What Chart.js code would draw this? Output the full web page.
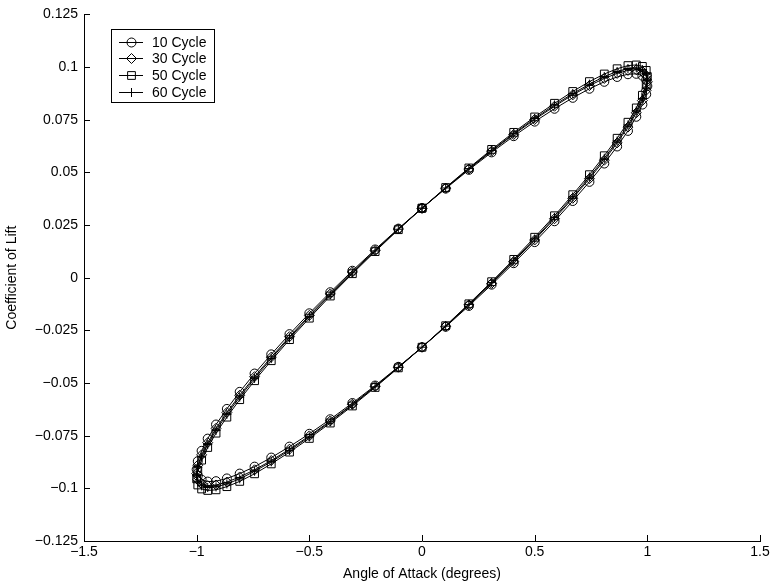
<!DOCTYPE html>
<html>
<head>
<meta charset="utf-8">
<script src="https://cdn.jsdelivr.net/npm/chart.js@4/dist/chart.umd.min.js"></script>
<style>
  html, body { margin: 0; padding: 0; background: #fff; }
  #plot { display: block; }
</style>
</head>
<body>
<canvas id="plot" width="773" height="585"></canvas>
<script>
// angle of attack (deg) - same prescribed motion for every run
var alpha = [0, 0.105, 0.208, 0.309, 0.407, 0.5, 0.588, 0.669, 0.743, 0.809, 0.866, 0.914, 0.951, 0.978, 0.995, 1,
	0.995, 0.978, 0.951, 0.914, 0.866, 0.809, 0.743, 0.669, 0.588, 0.5, 0.407, 0.309, 0.208, 0.105, 0,
	-0.105, -0.208, -0.309, -0.407, -0.5, -0.588, -0.669, -0.743, -0.809, -0.866, -0.914, -0.951, -0.978, -0.995, -1,
	-0.995, -0.978, -0.951, -0.914, -0.866, -0.809, -0.743, -0.669, -0.588, -0.5, -0.407, -0.309, -0.208, -0.105, 0];

// coefficient of lift for each run
var cl10 = [0.0330, 0.0423, 0.0512, 0.0595, 0.0672, 0.0741, 0.0802, 0.0854, 0.0897, 0.0930, 0.0953, 0.0966, 0.0968, 0.0959, 0.0940, 0.0910,
	0.0871, 0.0822, 0.0764, 0.0697, 0.0623, 0.0542, 0.0455, 0.0364, 0.0268, 0.0169, 0.0069, -0.0033, -0.0134, -0.0233, -0.0330,
	-0.0423, -0.0512, -0.0595, -0.0672, -0.0741, -0.0802, -0.0854, -0.0897, -0.0930, -0.0953, -0.0966, -0.0968, -0.0959, -0.0940, -0.0910,
	-0.0871, -0.0822, -0.0764, -0.0697, -0.0623, -0.0542, -0.0455, -0.0364, -0.0268, -0.0169, -0.0069, 0.0033, 0.0134, 0.0233, 0.0330];
var cl30 = [0.0330, 0.0425, 0.0516, 0.0601, 0.0680, 0.0751, 0.0814, 0.0868, 0.0912, 0.0946, 0.0970, 0.0984, 0.0987, 0.0978, 0.0959, 0.0930,
	0.0890, 0.0841, 0.0783, 0.0715, 0.0640, 0.0558, 0.0470, 0.0377, 0.0280, 0.0179, 0.0077, -0.0027, -0.0129, -0.0231, -0.0330,
	-0.0425, -0.0516, -0.0601, -0.0680, -0.0751, -0.0814, -0.0868, -0.0912, -0.0946, -0.0970, -0.0984, -0.0987, -0.0978, -0.0959, -0.0930,
	-0.0890, -0.0841, -0.0783, -0.0715, -0.0640, -0.0558, -0.0470, -0.0377, -0.0280, -0.0179, -0.0077, 0.0027, 0.0129, 0.0231, 0.0330];
var cl50 = [0.0330, 0.0428, 0.0521, 0.0609, 0.0690, 0.0763, 0.0828, 0.0884, 0.0931, 0.0967, 0.0992, 0.1007, 0.1010, 0.1003, 0.0984, 0.0955,
	0.0915, 0.0866, 0.0806, 0.0738, 0.0662, 0.0579, 0.0489, 0.0394, 0.0294, 0.0192, 0.0087, -0.0019, -0.0124, -0.0228, -0.0330,
	-0.0428, -0.0521, -0.0609, -0.0690, -0.0763, -0.0828, -0.0884, -0.0931, -0.0967, -0.0992, -0.1007, -0.1010, -0.1003, -0.0984, -0.0955,
	-0.0915, -0.0866, -0.0806, -0.0738, -0.0662, -0.0579, -0.0489, -0.0394, -0.0294, -0.0192, -0.0087, 0.0019, 0.0124, 0.0228, 0.0330];
var cl60 = [0.0330, 0.0426, 0.0518, 0.0604, 0.0684, 0.0756, 0.0820, 0.0874, 0.0919, 0.0955, 0.0979, 0.0993, 0.0996, 0.0988, 0.0969, 0.0940,
	0.0900, 0.0851, 0.0792, 0.0725, 0.0649, 0.0567, 0.0478, 0.0384, 0.0286, 0.0184, 0.0081, -0.0023, -0.0127, -0.0230, -0.0330,
	-0.0426, -0.0518, -0.0604, -0.0684, -0.0756, -0.0820, -0.0874, -0.0919, -0.0955, -0.0979, -0.0993, -0.0996, -0.0988, -0.0969, -0.0940,
	-0.0900, -0.0851, -0.0792, -0.0725, -0.0649, -0.0567, -0.0478, -0.0384, -0.0286, -0.0184, -0.0081, 0.0023, 0.0127, 0.0230, 0.0330];

var seriesNames = ['10 Cycle', '30 Cycle', '50 Cycle', '60 Cycle'];
var seriesValues = [cl10, cl30, cl50, cl60];
var markers = ['circle', 'rectRot', 'rect', 'cross'];
var markerSizes = [4.5, 5, 5.5, 4.5];

var font = 'Helvetica, "Liberation Sans", Arial, sans-serif';

function fmt(v) {
	var s = String(Number(v.toFixed(3)));
	return s.replace('-', '\u2212');
}

function pairs(ys) {
	var out = [];
	for (var i = 0; i < alpha.length; i++) out.push({x: alpha[i], y: ys[i]});
	return out;
}

var datasets = seriesValues.map(function(vals, i) {
	return {
		label: seriesNames[i],
		data: pairs(vals),
		showLine: true,
		tension: 0,
		borderColor: '#000',
		borderWidth: 1,
		pointStyle: markers[i],
		pointRadius: markerSizes[i],
		pointBorderColor: '#000',
		pointBorderWidth: 1,
		pointBackgroundColor: 'rgba(0,0,0,0)'
	};
});

// matlab style ticks pointing into the axes
var innerTicks = {
	id: 'innerTicks',
	afterDraw: function(chart) {
		var ctx = chart.ctx, xs = chart.scales.x, ys = chart.scales.y, len = 6;
		ctx.save();
		ctx.strokeStyle = '#000';
		ctx.lineWidth = 1;
		ctx.beginPath();
		xs.ticks.forEach(function(t) {
			var px = Math.round(xs.getPixelForValue(t.value)) + 0.5;
			ctx.moveTo(px, ys.bottom);
			ctx.lineTo(px, ys.bottom - len);
		});
		ys.ticks.forEach(function(t) {
			var py = Math.round(ys.getPixelForValue(t.value)) + 0.5;
			ctx.moveTo(xs.left, py);
			ctx.lineTo(xs.left + len, py);
		});
		ctx.stroke();
		ctx.restore();
	}
};

// legend box in the upper left of the axes
var boxLegend = {
	id: 'boxLegend',
	afterDraw: function(chart) {
		var ctx = chart.ctx,
			left = 111, top = 29, w = 103, h = 73, row = 16.7;
		ctx.save();
		ctx.fillStyle = '#fff';
		ctx.fillRect(left, top, w, h);
		ctx.strokeStyle = '#000';
		ctx.lineWidth = 1;
		ctx.strokeRect(left + 0.5, top + 0.5, w, h);
		ctx.font = '14px ' + font;
		ctx.textBaseline = 'middle';
		ctx.textAlign = 'left';
		chart.data.datasets.forEach(function(ds, i) {
			var y = Math.round(top + 12.7 + i * row) + 0.5;
			ctx.strokeStyle = '#000';
			ctx.beginPath();
			ctx.moveTo(119, y);
			ctx.lineTo(143, y);
			ctx.stroke();
			ctx.fillStyle = 'rgba(0,0,0,0)';
			Chart.helpers.drawPoint(ctx, {pointStyle: ds.pointStyle, radius: ds.pointRadius, borderWidth: 1}, 131.5, y);
			ctx.fillStyle = '#000';
			ctx.fillText(ds.label, 152, y + 1);
		});
		ctx.restore();
	}
};

new Chart(document.getElementById('plot'), {
	type: 'scatter',
	data: {datasets: datasets},
	plugins: [innerTicks, boxLegend],
	options: {
		responsive: false,
		animation: false,
		events: [],
		layout: {padding: {left: 0, right: 13, top: 14, bottom: 0}},
		plugins: {legend: {display: false}, tooltip: {enabled: false}},
		scales: {
			x: {
				type: 'linear',
				min: -1.5,
				max: 1.5,
				afterFit: function(s) { s.height = 44; },
				grid: {display: false, drawTicks: false},
				border: {display: true, color: '#000', width: 1},
				ticks: {
					stepSize: 0.5,
					padding: 3,
					color: '#000',
					font: {family: font, size: 14},
					maxRotation: 0,
					callback: function(v) { return fmt(v); }
				},
				title: {
					display: true,
					text: 'Angle of Attack (degrees)',
					color: '#000',
					font: {family: font, size: 14},
					padding: {top: 0, bottom: 2}
				}
			},
			y: {
				type: 'linear',
				min: -0.125,
				max: 0.125,
				afterFit: function(s) { s.width = 84; },
				grid: {display: false, drawTicks: false},
				border: {display: true, color: '#000', width: 1},
				ticks: {
					stepSize: 0.025,
					padding: 6,
					color: '#000',
					font: {family: font, size: 14},
					callback: function(v) { return fmt(v); }
				},
				title: {
					display: true,
					text: 'Coefficient of Lift',
					color: '#000',
					font: {family: font, size: 14},
					padding: {top: 4, bottom: 0}
				}
			}
		}
	}
});
</script>
</body>
</html>
